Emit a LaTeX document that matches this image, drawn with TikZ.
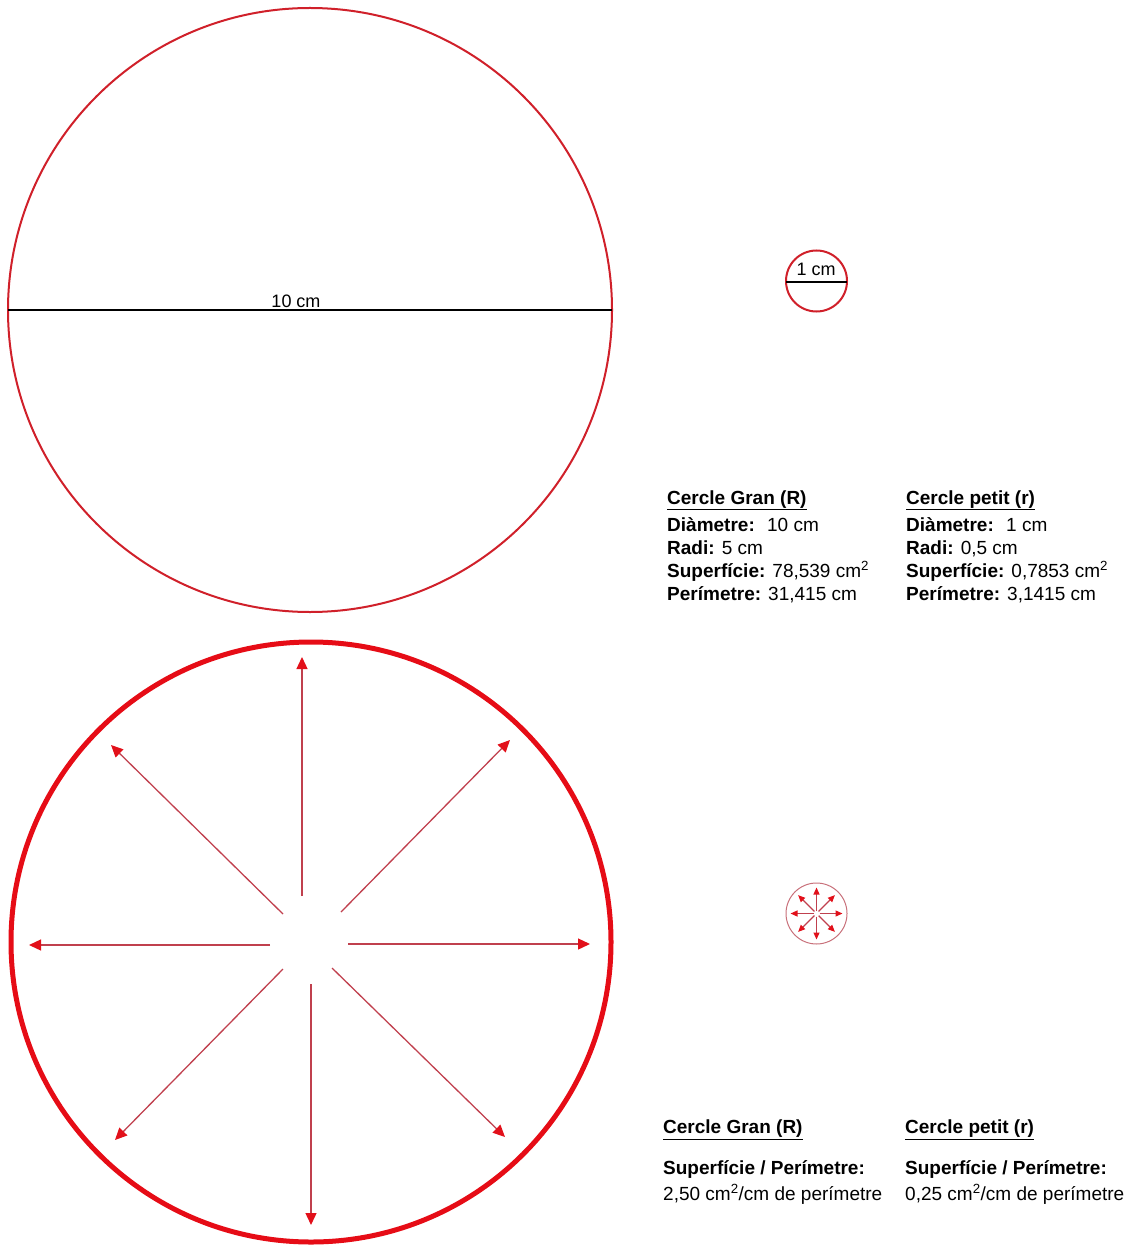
\documentclass[tikz,border=0pt]{standalone}
\usepackage{fontspec}
\setmainfont{Liberation Sans}
\usepackage{xcolor}
\usepackage{tikz}
\usetikzlibrary{arrows.meta,positioning,calc}

\definecolor{rimred}{RGB}{208,32,42}
\definecolor{boldred}{RGB}{230,12,22}
\definecolor{spokered}{RGB}{192,64,78}
\definecolor{tipred}{RGB}{226,16,26}
\definecolor{palered}{RGB}{200,112,122}

\tikzset{
  rim/.style={rimred,line width=2pt},
  fatrim/.style={boldred,line width=5pt},
  spoke/.style={spokered,line width=1.3pt,-{Triangle[length=12pt,width=11pt,color=tipred]}},
  minispoke/.style={spokered,line width=1.2pt,-{Triangle[length=7pt,width=6pt,color=tipred]}},
  label/.style={inner sep=0pt,font=\fontsize{18}{22}\selectfont},
  infobox/.style={inner sep=0pt,align=left,anchor=base west,font=\fontsize{19}{23}\selectfont}
}

\begin{document}
\begin{tikzpicture}[x=1pt,y=-1pt]
  \useasboundingbox (0,0) rectangle (1134,1246);
  % top: the two circles with their diameters
  \draw[rim] (310,310) circle[radius=302pt];
  \draw[line width=2pt] (8,310)--(612,310);
  \node[label,anchor=base] (bigd) at (296,307) {10 cm};
  \draw[rim] (816.5,281) circle[radius=30.5pt];
  \draw[line width=2pt] (786,282)--(847,282);
  \node[label,anchor=base] (smalld) at (816,276) {1 cm};

  \node[infobox] (bigdata) at (667,600) {%
    \underline{\textbf{Cercle Gran (R)}}\\[4pt]
    \textbf{Diàmetre:}~ 10 cm\\
    \textbf{Radi:} 5 cm\\
    \textbf{Superfície:} 78,539 cm\textsuperscript{2}\\
    \textbf{Perímetre:} 31,415 cm};
  \node[infobox] (smalldata) at (906,600) {%
    \underline{\textbf{Cercle petit (r)}}\\[4pt]
    \textbf{Diàmetre:}~ 1 cm\\
    \textbf{Radi:} 0,5 cm\\
    \textbf{Superfície:} 0,7853 cm\textsuperscript{2}\\
    \textbf{Perímetre:} 3,1415 cm};

  % bottom: area spreading out to the perimeter
  \draw[fatrim] (311,942) circle[radius=300pt];
  \draw[spoke] (302,896)--(302,657);
  \draw[spoke] (341,912)--(510,740);
  \draw[spoke] (348,944)--(590,944);
  \draw[spoke] (332,968)--(505,1137);
  \draw[spoke] (311,984)--(311,1225);
  \draw[spoke] (283,969)--(115,1140);
  \draw[spoke] (270,945)--(29,945);
  \draw[spoke] (283,914)--(111,745);

  \coordinate (mini) at (816.5,913.5);
  \draw[palered,line width=1pt] (mini) circle[radius=30.5pt];
  \draw[minispoke] ($(mini)+(0:3)$)--($(mini)+(0:26)$);
  \draw[minispoke] ($(mini)+(45:3)$)--($(mini)+(45:26)$);
  \draw[minispoke] ($(mini)+(90:3)$)--($(mini)+(90:26)$);
  \draw[minispoke] ($(mini)+(135:3)$)--($(mini)+(135:26)$);
  \draw[minispoke] ($(mini)+(180:3)$)--($(mini)+(180:26)$);
  \draw[minispoke] ($(mini)+(225:3)$)--($(mini)+(225:26)$);
  \draw[minispoke] ($(mini)+(270:3)$)--($(mini)+(270:26)$);
  \draw[minispoke] ($(mini)+(315:3)$)--($(mini)+(315:26)$);

  \node[infobox] (bigratio) at (663,1200) {%
    \underline{\textbf{Cercle Gran (R)}}\\[17.5pt]
    \textbf{Superfície / Perímetre:}\\[3pt]
    2,50 cm\textsuperscript{2}/cm de perímetre};
  \node[infobox] (smallratio) at (905,1200) {%
    \underline{\textbf{Cercle petit (r)}}\\[17.5pt]
    \textbf{Superfície / Perímetre:}\\[3pt]
    0,25 cm\textsuperscript{2}/cm de perímetre};
\end{tikzpicture}
\end{document}
